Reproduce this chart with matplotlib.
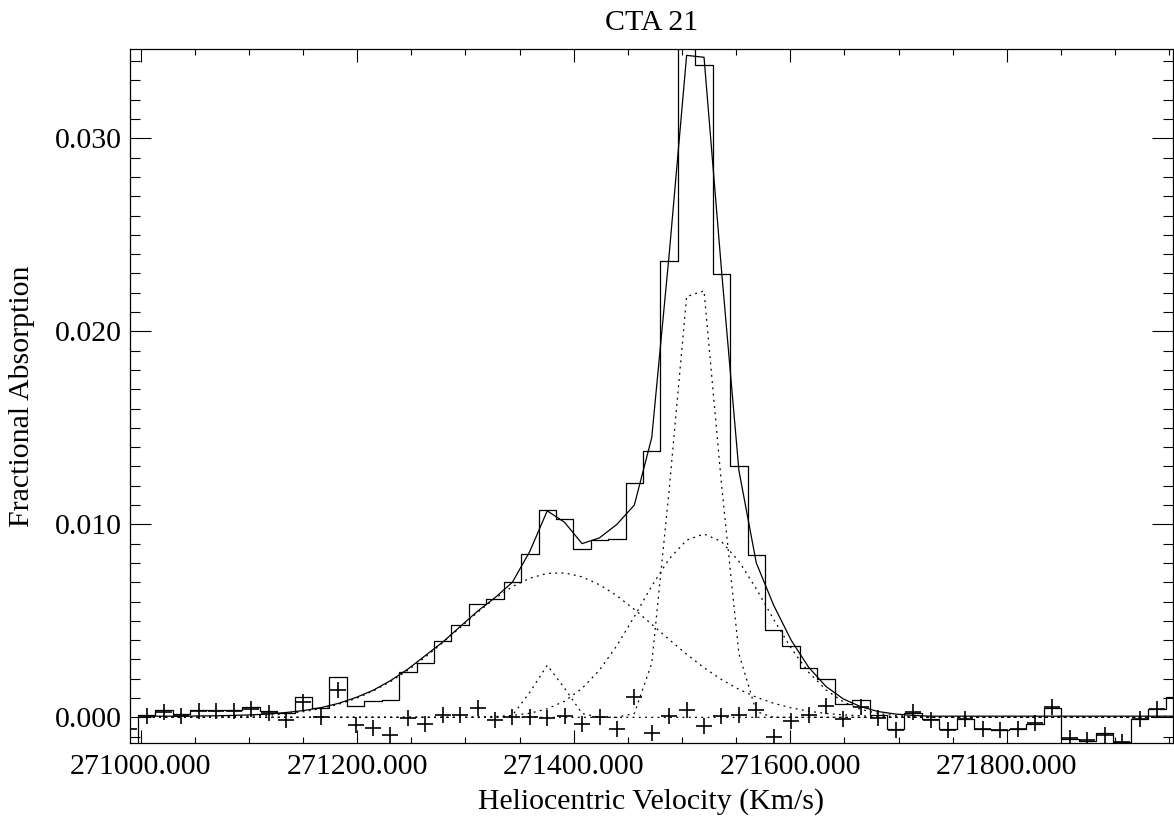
import numpy as np
import matplotlib
matplotlib.use("Agg")
import matplotlib.pyplot as plt
from matplotlib.ticker import MultipleLocator, FormatStrFormatter

plt.rcParams['font.family'] = ['Liberation Serif', 'DejaVu Serif']

# ---- data (channel grid: first channel + width, km/s) ----
v_start = 270989.4
v_width = 16.09
n_chan = 61  # channel -1 .. 59

# observed fractional absorption per channel (first entry is clipped below axis)
absorption = [
    -0.0016,
    0.0001, 0.00036, 0.00015, 0.0004, 0.00036, 0.0004, 0.00053, 0.00034, 0.0002, 0.00105,
    0.0005, 0.0021, 0.0006, 0.00086, 0.00092, 0.00235, 0.00281, 0.00398, 0.00481, 0.00589,
    0.00612, 0.00701, 0.00848, 0.01073, 0.01029, 0.0087, 0.0092, 0.00925, 0.01214, 0.0138,
    0.02366, 0.0348, 0.03378, 0.02295, 0.0130, 0.00839, 0.00454, 0.00368, 0.00256, 0.0020,
    0.00071, 0.00088, 0.00013, -0.00059, 0.0002, -0.00008, -0.00062, -0.00007, -0.00059, -0.00064,
    -0.00059, -0.00033, 0.00049, -0.0011, -0.00124, -0.0008, -0.0013, -0.00007, 0.00045, 0.00107,
]

# residuals (data - fit) per channel
residual = [
    -0.00062,
    0.00006, 0.0003, 0.00005, 0.00033, 0.00032, 0.00032, 0.00045, 0.00022, -0.00016, 0.00079,
    0.00002, 0.00142, -0.00038, -0.00056, -0.0009, -0.00005, -0.00032, 0.00012, 0.0001, 0.00047,
    -0.00014, 0.00002, 0.00002, -0.00005, 0.00008, -0.00033, 0.00004, -0.0006, 0.00105, -0.00083,
    0.00005, 0.00036, -0.00046, 0.00007, 0.00014, 0.00036, -0.00102, -0.00017, 0.00012, 0.00058,
    -0.00008, 0.00053, -0.00002, -0.00065, 0.00028, -0.00016, -0.00064, -0.00007, -0.00059, -0.00064,
    -0.00059, -0.0003, 0.00053, -0.00105, -0.0012, -0.0009, -0.00128, -0.00007, 0.00045, 0.001,
]

# total fit (channels 0..59)
fit_total = [
    0.00006, 0.00006, 0.00006, 0.00007, 0.00008, 0.0001, 0.00013, 0.00017, 0.00025, 0.00035,
    0.0005, 0.00072, 0.00102, 0.0014, 0.0019, 0.0025, 0.0032, 0.0039, 0.0047, 0.0055,
    0.0062, 0.0070, 0.0086, 0.0107, 0.0101, 0.0090, 0.0093, 0.0100, 0.0110, 0.0145,
    0.0240, 0.0343, 0.0342, 0.0232, 0.0128, 0.0080, 0.0058, 0.0040, 0.0026, 0.0016,
    0.00095, 0.00055, 0.0003, 0.00017, 0.0001, 0.00006, 0.00006, 0.00006, 0.00006, 0.00006,
    0.00006, 0.00006, 0.00006, 0.00006, 0.00006, 0.00006, 0.00006, 0.00006, 0.00006, 0.00006,
]

# individual components (channels 0..59)
comp_broad = [
    0, 0, 0, 0.00001, 0.00002, 0.00004, 0.00007, 0.00011, 0.00019, 0.00029,
    0.00045, 0.00067, 0.00097, 0.00136, 0.00185, 0.00244, 0.00312, 0.00387, 0.00465, 0.00544,
    0.00616, 0.00677, 0.00721, 0.00746, 0.00748, 0.00728, 0.00687, 0.00630, 0.00559, 0.00482,
    0.00403, 0.00327, 0.00257, 0.00196, 0.00145, 0.00104, 0.00073, 0.00049, 0.00032, 0.00020,
    0.00013, 0.00008, 0.00004, 0.00002, 0.00001, 0, 0, 0, 0, 0,
    0, 0, 0, 0, 0, 0, 0, 0, 0, 0,
]
comp_small = [
    0, 0, 0, 0, 0, 0, 0, 0, 0, 0,
    0, 0, 0, 0, 0, 0, 0, 0, 0, 0,
    0, 0.0001, 0.0013, 0.0027, 0.0015, 0.0002, 0, 0, 0, 0,
    0, 0, 0, 0, 0, 0, 0, 0, 0, 0,
    0, 0, 0, 0, 0, 0, 0, 0, 0, 0,
    0, 0, 0, 0, 0, 0, 0, 0, 0, 0,
]
comp_medium = [
    0, 0, 0, 0, 0, 0, 0, 0, 0, 0,
    0, 0, 0, 0, 0, 0, 0, 0, 0, 0.00002,
    0.00004, 0.0001, 0.00021, 0.00044, 0.00084, 0.0015, 0.00245, 0.00372, 0.00522, 0.00681,
    0.00821, 0.00918, 0.0095, 0.00911, 0.00809, 0.00666, 0.00507, 0.00358, 0.00234, 0.00142,
    0.0008, 0.00041, 0.0002, 0.00009, 0.00004, 0.00001, 0, 0, 0, 0,
    0, 0, 0, 0, 0, 0, 0, 0, 0, 0,
]
comp_narrow = [
    0, 0, 0, 0, 0, 0, 0, 0, 0, 0,
    0, 0, 0, 0, 0, 0, 0, 0, 0, 0,
    0, 0, 0, 0, 0, 0, 0, 0, 0.0002, 0.0028,
    0.0118, 0.0218, 0.0221, 0.0121, 0.0033, 0.0003, 0, 0, 0, 0,
    0, 0, 0, 0, 0, 0, 0, 0, 0, 0,
    0, 0, 0, 0, 0, 0, 0, 0, 0, 0,
]

x_ticks = [271000, 271200, 271400, 271600, 271800]
y_ticks = [0.000, 0.010, 0.020, 0.030]

velocity = v_start + v_width * np.arange(n_chan)
vel_fit = velocity[1:]

# ---- figure ----
W, H = 1174, 822
fig = plt.figure(figsize=(W / 100, H / 100), dpi=100)
ax = fig.add_axes([130 / W, (H - 743) / H, (1173 - 130) / W, (743 - 49) / H])

lw = 0.9
dot = (0, (1.5, 3.5))
ax.step(velocity, absorption, where='mid', color='black', lw=lw)
ax.plot(vel_fit, fit_total, color='black', lw=lw)
for comp in (comp_broad, comp_small, comp_medium, comp_narrow):
    ax.plot(vel_fit, comp, color='black', lw=lw, linestyle=dot)
ax.plot(velocity, residual, linestyle='none', marker='+', color='black',
        markersize=11.5, markeredgewidth=1.2)

ax.set_xlim(270990.2, 271953.5)
ax.set_ylim(-0.00133, 0.03463)

ax.set_xticks(x_ticks)
ax.set_yticks(y_ticks)
ax.xaxis.set_minor_locator(MultipleLocator(50))
ax.yaxis.set_minor_locator(MultipleLocator(0.001))
ax.xaxis.set_major_formatter(FormatStrFormatter('%.3f'))
ax.yaxis.set_major_formatter(FormatStrFormatter('%.3f'))

ax.tick_params(axis='x', which='major', direction='in', length=9.4, width=0.8,
               top=True, bottom=True, labelsize=21.5, pad=8)
ax.tick_params(axis='x', which='minor', direction='in', length=4.5, width=0.8,
               top=True, bottom=True)
ax.tick_params(axis='y', which='major', direction='in', length=15, width=0.8,
               left=True, right=True, labelsize=21.5, pad=6)
ax.tick_params(axis='y', which='minor', direction='in', length=7.5, width=0.8,
               left=True, right=True)
for s in ax.spines.values():
    s.set_linewidth(0.9)

ax.set_title('CTA 21', fontsize=21.5, pad=14)
ax.set_xlabel('Heliocentric Velocity (Km/s)', fontsize=21.5, labelpad=6)
ax.set_ylabel('Fractional Absorption', fontsize=21.5, labelpad=14)

fig.savefig('out.png', dpi=100)
